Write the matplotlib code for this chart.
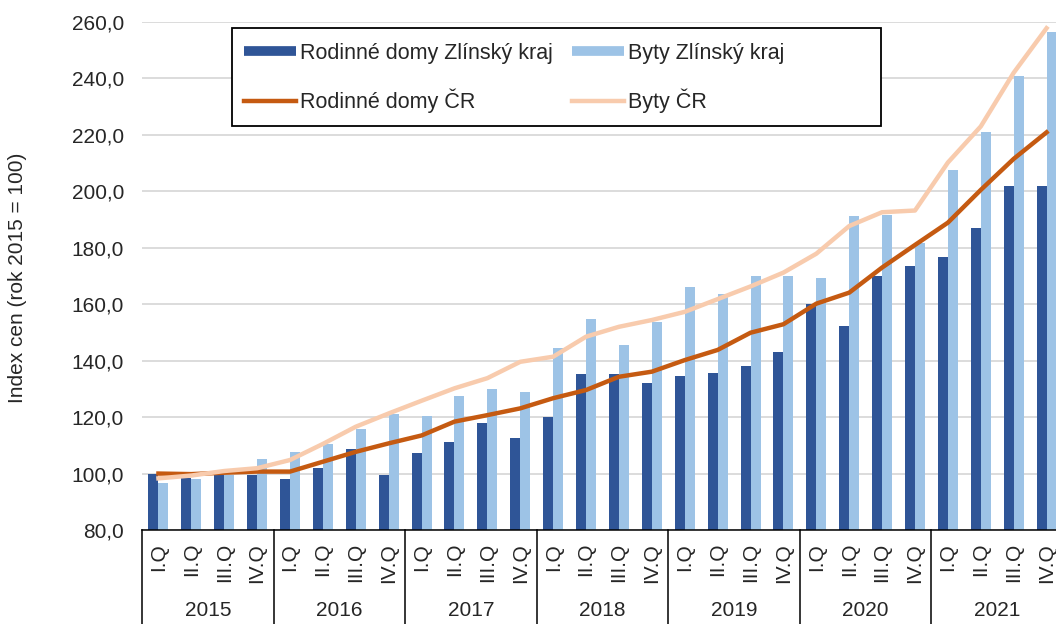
import matplotlib.pyplot as plt
import matplotlib.transforms as mtransforms
import numpy as np
from matplotlib.lines import Line2D
from matplotlib.patches import Rectangle

plt.rcParams['font.family'] = ['Liberation Sans', 'DejaVu Sans']

years = ['2015', '2016', '2017', '2018', '2019', '2020', '2021']
quarters = ['I.Q', 'II.Q', 'III.Q', 'IV.Q']

# index cen, rok 2015 = 100
rd_zlin = [100.0, 98.4, 99.5, 99.6, 98.0, 101.9, 108.6, 99.4,
           107.2, 111.3, 117.8, 112.7, 119.9, 135.4, 135.4, 132.0,
           134.7, 135.5, 138.0, 143.2, 160.0, 152.3, 170.0, 173.7,
           176.6, 187.1, 202.0, 202.0]
byty_zlin = [96.5, 98.0, 99.5, 105.0, 107.7, 110.4, 115.7, 121.0,
             120.4, 127.6, 129.8, 129.0, 144.6, 154.6, 145.4, 153.8,
             166.0, 163.7, 170.0, 170.0, 169.4, 191.3, 191.5, 181.6,
             207.6, 221.2, 241.0, 256.6]
rd_cr = [100.0, 99.8, 100.3, 100.7, 100.7, 104.2, 107.7, 110.7,
         113.5, 118.4, 120.7, 123.1, 126.7, 129.6, 134.3, 136.1,
         140.2, 143.8, 149.9, 152.9, 160.2, 164.1, 173.0, 181.0,
         188.9, 200.5, 211.5, 220.9]
byty_cr = [98.3, 99.3, 100.9, 101.9, 104.8, 110.5, 116.6, 121.3,
           125.8, 130.2, 133.8, 139.6, 141.4, 148.5, 152.0, 154.4,
           157.3, 161.8, 166.3, 171.2, 177.9, 187.7, 192.6, 193.2,
           210.2, 223.0, 242.0, 257.8]

c_dark = '#2F5597'
c_light = '#9DC3E6'
c_orange = '#C55A11'
c_peach = '#F8CBAD'
txt = '#262626'

W, H = 1056, 624
fig = plt.figure(figsize=(W / 100, H / 100), dpi=100)
ax = fig.add_axes([142 / W, 94 / H, 921 / W, 508 / H])

x = np.arange(len(rd_zlin))
w = 0.304
ax.bar(x - w / 2, rd_zlin, w, color=c_dark, zorder=2)
ax.bar(x + w / 2, byty_zlin, w, color=c_light, zorder=2)
ax.plot(x, rd_cr, color=c_orange, lw=3.2, zorder=3, solid_joinstyle='round')
ax.plot(x, byty_cr, color=c_peach, lw=3.2, zorder=3, solid_joinstyle='round')

ax.set_xlim(-0.5, len(x) - 0.5)
ax.set_ylim(80, 260)
yt = np.arange(80, 261, 20)
ax.set_yticks(yt)
ax.set_yticklabels([f'{v:.1f}'.replace('.', ',') for v in yt])
ax.yaxis.grid(True, color='#D9D9D9', lw=1.3)
ax.set_axisbelow(True)
ax.tick_params(axis='y', length=0, pad=13, labelsize=15, labelcolor=txt)
ax.set_xticks([])
for s in ['left', 'right', 'top']:
    ax.spines[s].set_visible(False)
ax.spines['bottom'].set_color('black')
ax.spines['bottom'].set_linewidth(1.1)

# two-level category axis
trans = mtransforms.blended_transform_factory(ax.transData, ax.transAxes)
for i in x:
    ax.text(i, -13 / 508, quarters[i % 4], transform=trans, rotation=90,
            ha='center', va='top', fontsize=15, color=txt)
for k, yr in enumerate(years):
    ax.text(4 * k + 1.5, -81 / 508, yr, transform=trans, ha='center',
            va='center', fontsize=15, color=txt)
for b in range(len(years) + 1):
    ax.plot([4 * b - 0.5, 4 * b - 0.5], [0, -94 / 508], transform=trans,
            color='black', lw=1.1, clip_on=False)

fig.text(18 / W, 1 - 278 / H, 'Index cen (rok 2015 = 100)', rotation=90,
         ha='center', va='center', fontsize=15, color=txt)

# legend with its own frame
frame = Rectangle((232 / W, 1 - 126 / H), 649 / W, 98 / H,
                  transform=fig.transFigure, facecolor='white',
                  edgecolor='black', lw=1.3, zorder=4)
fig.add_artist(frame)
handles = [
    Line2D([], [], color=c_dark, lw=7, solid_capstyle='butt', label='Rodinné domy Zlínský kraj'),
    Line2D([], [], color=c_orange, lw=3.2, label='Rodinné domy ČR'),
    Line2D([], [], color=c_light, lw=7, solid_capstyle='butt', label='Byty Zlínský kraj'),
    Line2D([], [], color=c_peach, lw=3.2, label='Byty ČR'),
]
leg = fig.legend(handles=handles, ncol=2, loc='upper left',
                 bbox_to_anchor=(244 / W, 1 - 43 / H), frameon=False,
                 fontsize=15.5, handlelength=2.4, handletextpad=0.2,
                 columnspacing=0.9, labelspacing=1.15, borderpad=0,
                 borderaxespad=0)
leg.set_zorder(5)
for t in leg.get_texts():
    t.set_color(txt)

fig.savefig('out.png', dpi=100)
